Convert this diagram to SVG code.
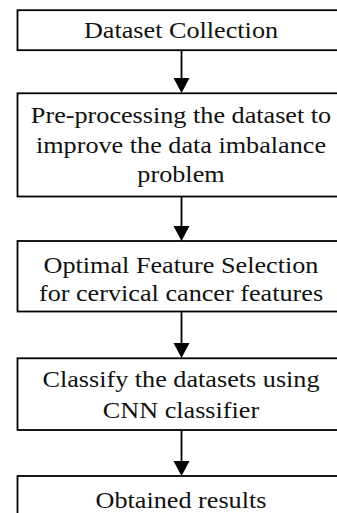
<svg xmlns="http://www.w3.org/2000/svg" width="337" height="513" viewBox="0 0 337 513">
<style>
.box{fill:#fff;stroke:#000;stroke-width:1.8}
.t{font-family:"Liberation Serif","Times New Roman",serif;font-size:23.6px;fill:#111;text-anchor:middle}
.c{stroke:#000;stroke-width:1.8;fill:none}
.ah{fill:#000}
</style>
<defs>
<path id="head" d="M-8,-15 L8,-15 L0,0 Z"/>
</defs>
<g id="connectors">
<line class="c" x1="181.5" y1="50" x2="181.5" y2="80"/>
<use href="#head" class="ah" x="181.5" y="93"/>
<line class="c" x1="181.5" y1="196.5" x2="181.5" y2="228"/>
<use href="#head" class="ah" x="181.5" y="241"/>
<line class="c" x1="181.5" y1="311.5" x2="181.5" y2="345"/>
<use href="#head" class="ah" x="181.5" y="358"/>
<line class="c" x1="181.5" y1="430" x2="181.5" y2="463"/>
<use href="#head" class="ah" x="181.5" y="476"/>
</g>
<g id="n1">
<rect class="box" x="17.5" y="10.2" width="328" height="40"/>
<text class="t" x="181" y="38.3" transform="matrix(1.11,0,0,1,-19.9,0)">Dataset Collection</text>
</g>
<g id="n2">
<rect class="box" x="17.5" y="93.3" width="328" height="103.2"/>
<text class="t" transform="matrix(1.11,0,0,1,-19.9,0)"><tspan x="181" y="123.5">Pre-processing the dataset to</tspan><tspan x="181" y="153">improve the data imbalance</tspan><tspan x="181" y="182">problem</tspan></text>
</g>
<g id="n3">
<rect class="box" x="17.5" y="241" width="328" height="70.5"/>
<text class="t" transform="matrix(1.11,0,0,1,-19.9,0)"><tspan x="181" y="273.5">Optimal Feature Selection</tspan><tspan x="181" y="301.5">for cervical cancer features</tspan></text>
</g>
<g id="n4">
<rect class="box" x="17.5" y="358.3" width="328" height="71.7"/>
<text class="t" transform="matrix(1.11,0,0,1,-19.9,0)"><tspan x="181" y="387.5">Classify the datasets using</tspan><tspan x="181" y="418">CNN classifier</tspan></text>
</g>
<g id="n5">
<rect class="box" x="17.5" y="476" width="328" height="50"/>
<text class="t" x="181" y="508" transform="matrix(1.11,0,0,1,-19.9,0)">Obtained results</text>
</g>
</svg>
